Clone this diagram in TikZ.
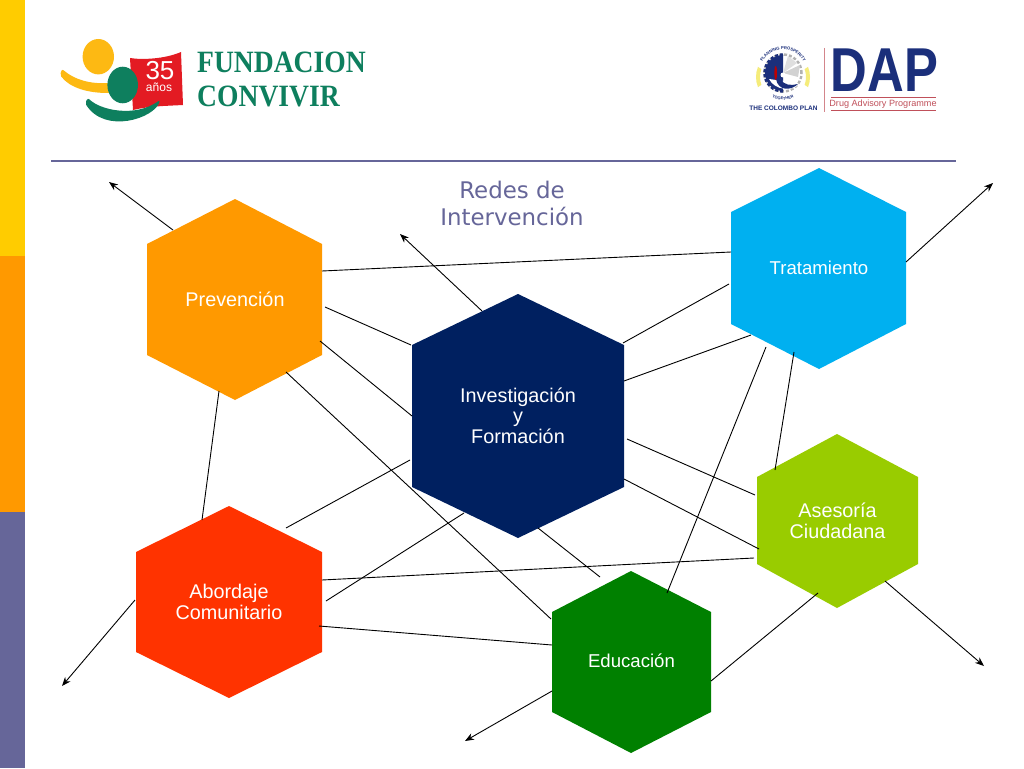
\documentclass[tikz,border=0pt]{standalone}
\usepackage{fontspec}
\usepackage{graphicx}
\setmainfont{Liberation Sans}
\newfontfamily\logoserif{Liberation Serif}
\newfontfamily\titlefont{DejaVu Sans}
\usetikzlibrary{arrows.meta,decorations.text}
\definecolor{barY}{HTML}{FFCC00}
\definecolor{barO}{HTML}{FF9900}
\definecolor{barP}{HTML}{666699}
\definecolor{prevC}{HTML}{FF9900}
\definecolor{tratC}{HTML}{00B0F0}
\definecolor{invC}{HTML}{002060}
\definecolor{aseC}{HTML}{99CC00}
\definecolor{aboC}{HTML}{FF3300}
\definecolor{eduC}{HTML}{008000}
\definecolor{logoG}{HTML}{0E7F5E}
\definecolor{logoY}{HTML}{FDB913}
\definecolor{logoR}{HTML}{E31B23}
\definecolor{dapB}{HTML}{1B2F7B}
\definecolor{dapR}{HTML}{C0505A}
\definecolor{crescent}{HTML}{F5EC7A}
\tikzset{
  x=1pt,y=-1pt,
  hexlabel/.style={font=\fontsize{19.8}{20.5}\selectfont,text=white,align=center,inner sep=0pt},
  hexlabelsmall/.style={font=\fontsize{18.6}{20.5}\selectfont,text=white,align=center,inner sep=0pt},
  link/.style={draw=black,line width=0.9pt},
  linkarrow/.style={link,-{Stealth[length=9pt,width=7pt]}}
}
\begin{document}
\begin{tikzpicture}
\useasboundingbox (0,0) rectangle (1024,768);
\fill[white] (0,0) rectangle (1024,768);
% side bars
\fill[barY] (0,0) rectangle (25,256);
\fill[barO] (0,256) rectangle (25,512);
\fill[barP] (0,512) rectangle (25,768);
\draw[barP,line width=1.6pt] (51,161) -- (956,161);
% hexagons
\fill[prevC] (235,199)--(322,244)--(322,355)--(235,400)--(147,355)--(147,244)--cycle;
\fill[tratC] (819,168)--(906,212)--(906,324)--(819,369)--(731,324)--(731,212)--cycle;
\fill[invC] (518,294)--(624,345)--(624,487)--(518,538)--(412,487)--(412,345)--cycle;
\fill[aseC] (837,434)--(918,477)--(918,564)--(837,608)--(757,564)--(757,477)--cycle;
\fill[aboC] (229,506)--(322,552)--(322,652)--(229,698)--(136,652)--(136,552)--cycle;
\fill[eduC] (631,571)--(711,612)--(711,712)--(631,753)--(552,712)--(552,612)--cycle;
% labels
\node[hexlabel] (prev) at (235,299) {Prevención};
\node[hexlabelsmall] (trat) at (819,268) {Tratamiento};
\node[hexlabel] (inv) at (518,415.5) {Investigación\\y\\Formación};
\node[hexlabel] (ase) at (837.5,521) {Asesoría\\Ciudadana};
\node[hexlabel] (abo) at (229,602) {Abordaje\\Comunitario};
\node[hexlabelsmall] (edu) at (631.5,661) {Educación};
\node[font=\titlefont\fontsize{22.9}{27}\selectfont,text=barP,align=center,inner sep=0pt] (title) at (512,203) {Redes de\\Intervención};
% connector ends
\foreach \n/\x/\y in {a1/173/230,a2/109/182,b1/322/271,b2/731/252,c1/325/307,c2/411/345,d1/320/341,d2/412/416,
 e1/286/372,e2/551/619,f1/219/391,f2/202/520,g1/482/311,g2/400/234,h1/623/343,h2/729/284,i1/624/381,i2/751/335,
 j1/627/439,j2/755/495,k1/624/479,k2/759/549,l1/766/347,l2/667/593,m1/794/352,m2/775/470,n1/906/262,n2/993/183,
 o1/885/581,o2/984/666,p1/818/593,p2/711/681,q1/754/558,q2/322/580,r1/410/460,r2/286/528,s1/464/513,s2/326/601,
 t1/538/528,t2/600/577,u1/319/626,u2/552/645,v1/135/600,v2/62/686,w1/552/691,w2/465/741}
 {\coordinate (\n) at (\x,\y);}
\foreach \n in {b,c,d,e,f,h,i,j,k,l,m,p,q,r,s,t,u}
 {\draw[link] (\n1) -- (\n2);}
\foreach \n in {a,g,n,o,v,w}
 {\draw[linkarrow] (\n1) -- (\n2);}
% Fundacion Convivir logo
\fill[logoY] (98.3,56.7) ellipse (15.7 and 17.7);
\fill[logoY,rounded corners=2pt] (62,69) .. controls (75,80) and (90,84) .. (110,83) -- (110,93) .. controls (88,93) and (70,88) .. (60,75) -- cycle;
\fill[logoR] (130,58) .. controls (142,60) and (165,59) .. (181,52) -- (183,105) .. controls (165,106) and (150,106) .. (133,110) -- cycle;
\fill[logoG] (122.7,85) ellipse (15.3 and 18.3);
\fill[logoG,rounded corners=2pt] (88,98) .. controls (100,110) and (135,118) .. (160,100) .. controls (155,118) and (105,135) .. (85,103) -- cycle;
\node[text=white,font=\fontsize{26}{26}\selectfont,inner sep=0pt] (n35) at (160,71) {35};
\node[text=white,font=\fontsize{12}{12}\selectfont,inner sep=0pt] (anos) at (159,87) {años};
\node[text=logoG,font=\logoserif\bfseries\fontsize{31}{31}\selectfont,anchor=west,inner sep=0pt] (fund) at (197,62) {\scalebox{.89}[1]{FUNDACION}};
\node[text=logoG,font=\logoserif\bfseries\fontsize{31}{31}\selectfont,anchor=west,inner sep=0pt] (conv) at (197,96) {\scalebox{.89}[1]{CONVIVIR}};
% Colombo Plan emblem
\begin{scope}[shift={(783,73)},y=1pt]
  \begin{scope}[shift={(0,-4)}]
    \fill[crescent] (202:27) arc (202:158:27) -- (160:23) arc (160:200:23) -- cycle;
    \fill[crescent] (-22:27) arc (-22:22:27) -- (20:23) arc (20:-20:23) -- cycle;
  \end{scope}
  \draw[gray!60,line width=2.5pt,dash pattern=on 3pt off 2pt] (0,0) circle (18.5);
  \draw[dapB,line width=2.5pt,dash pattern=on 3pt off 2pt] (0,18.5) arc (90:270:18.5);
  \fill[white] (0,0) circle (17);
  \fill[dapB] (0,0) -- (0,18) arc (90:270:18) -- cycle;
  \fill[gray!35] (0,0) -- (17,8) -- (15,-4) -- cycle;
  \fill[gray!25] (0,0) -- (5,17) -- (14,10) -- cycle;
  \fill[white] (0,-8) .. controls (8,-8) and (14,-14) .. (15,-12) .. controls (10,-18) and (-8,-18) .. (-14,-6) -- cycle;
  \fill[dapB] (-2,-6) .. controls (0,-12) and (8,-13) .. (15,-11) .. controls (8,-18) and (-5,-18) .. (-7,-6) -- cycle;
  \fill[red!75!black] (-7.3,0) ellipse (1.3 and 7);
  \fill[white] (0,-2) circle (2.5);
  \path[postaction={decorate,decoration={text along path,text align=center,
    text={|\color{dapB}\bfseries\fontsize{4.2}{5}\selectfont|PLANNING PROSPERITY}}}]
    (155:23.5) arc (155:25:23.5);
  \path[postaction={decorate,decoration={text along path,text align=center,
    text={|\color{dapB}\bfseries\fontsize{4}{5}\selectfont|TOGETHER}}}]
    (235:27) arc (235:305:27);
\end{scope}
\node[text=dapB,font=\bfseries\fontsize{6.5}{8}\selectfont,inner sep=0pt] (colombo) at (783.5,108) {THE COLOMBO PLAN};
% DAP logo
\draw[dapR!70!white,line width=0.8pt] (824,48) -- (824,112);
\node[text=dapB,font=\bfseries\fontsize{62}{62}\selectfont,inner sep=0pt] (dap) at (884.5,70.5) {\scalebox{.82}[1]{DAP}};
\draw[dapR,line width=0.8pt] (831,97) -- (936,97);
\draw[dapR,line width=0.8pt] (831,110.5) -- (936,110.5);
\node[text=dapR,font=\fontsize{9.1}{10}\selectfont,inner sep=0pt] (drug) at (883,104) {Drug Advisory Programme};
\end{tikzpicture}
\end{document}
